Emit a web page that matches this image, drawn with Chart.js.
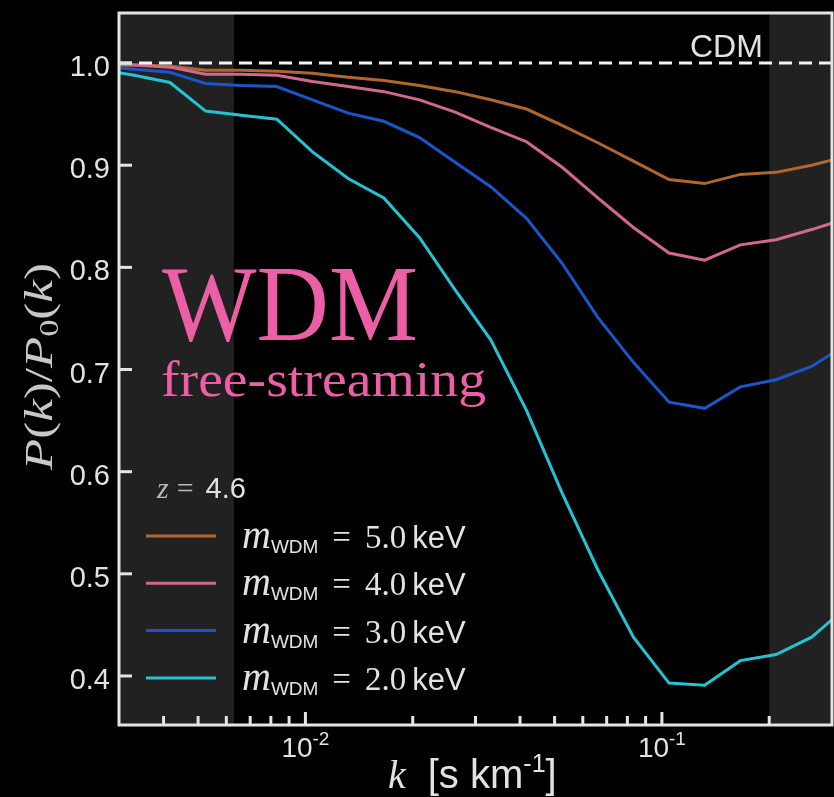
<!DOCTYPE html>
<html>
<head>
<meta charset="utf-8">
<script src="https://cdn.jsdelivr.net/npm/chart.js@4.4.0/dist/chart.umd.min.js"></script>
<style>
html, body { margin: 0; padding: 0; background: #000; }
</style>
</head>
<body>
<canvas id="chart" width="834" height="797"></canvas>
<script>
// k bins [s/km] and P(k)/P0(k) for each WDM mass
var kValues = [0.00263, 0.00331, 0.00417, 0.00525, 0.00661, 0.00832, 0.01047, 0.01318, 0.0166, 0.0209, 0.0263,
               0.0331, 0.0417, 0.0525, 0.0661, 0.0832, 0.1047, 0.1318, 0.166, 0.209, 0.263, 0.331];
var ratio5keV = [0.999, 0.998, 0.997, 0.993, 0.993, 0.992, 0.990, 0.986, 0.983, 0.978, 0.972,
                 0.964, 0.955, 0.939, 0.922, 0.904, 0.886, 0.882, 0.891, 0.893, 0.900, 0.909];
var ratio4keV = [0.999, 0.998, 0.996, 0.989, 0.989, 0.988, 0.982, 0.977, 0.972, 0.964, 0.952,
                 0.937, 0.923, 0.898, 0.868, 0.839, 0.814, 0.807, 0.822, 0.827, 0.837, 0.848];
var ratio3keV = [0.997, 0.994, 0.991, 0.980, 0.978, 0.977, 0.964, 0.951, 0.943, 0.927, 0.903,
                 0.879, 0.848, 0.804, 0.751, 0.707, 0.668, 0.662, 0.683, 0.690, 0.703, 0.725];
var ratio2keV = [0.994, 0.988, 0.981, 0.953, 0.949, 0.945, 0.913, 0.887, 0.868, 0.829, 0.778,
                 0.729, 0.660, 0.579, 0.504, 0.438, 0.393, 0.391, 0.415, 0.421, 0.438, 0.468];
var massLabels = ['5.0', '4.0', '3.0', '2.0'];
var lineColors = ['#b0662f', '#d06890', '#1a56c8', '#23c3d3'];

var yTicks = [0.4, 0.5, 0.6, 0.7, 0.8, 0.9, 1.0];
var xMajorTicks = [0.01, 0.1];
var xMajorExp = ['-2', '-1'];
var xMinorTicks = [0.004, 0.005, 0.006, 0.007, 0.008, 0.009, 0.02, 0.03, 0.04, 0.05, 0.06, 0.07, 0.08, 0.09, 0.2];
var kRange = [0.003, 0.3];
var yRange = [0.352, 1.049];
var shadeLeft = [0.003, 0.0063];
var shadeRight = [0.2, 0.3];
var cdmLevel = 1.0;
var redshift = '4.6';

var sans = '"Liberation Sans", Arial, sans-serif';
var serif = '"Liberation Serif", "Times New Roman", serif';
var textColor = '#e2e2e2';
var pink = '#ec5fa6';

function toPoints(ys) {
    return kValues.map(function(k, i) { return { x: k, y: ys[i] }; });
}

var seriesValues = [ratio5keV, ratio4keV, ratio3keV, ratio2keV];
var datasets = [{
    label: 'CDM',
    data: [{ x: kRange[0], y: cdmLevel }, { x: kRange[1], y: cdmLevel }],
    borderColor: '#f2f2f2',
    borderWidth: 3,
    borderDash: [13, 7],
    pointRadius: 0,
    order: 0
}];
seriesValues.forEach(function(v, i) {
    datasets.push({
        label: massLabels[i],
        data: toPoints(v),
        borderColor: lineColors[i],
        borderWidth: 3,
        pointRadius: 0,
        tension: 0,
        order: 4 - i
    });
});

function runsWidth(c, runs) {
    var w = 0;
    runs.forEach(function(r) { c.font = r.font; w += c.measureText(r.text).width + (r.gap || 0); });
    return w;
}
function drawRuns(c, runs, x, y) {
    runs.forEach(function(r) {
        c.font = r.font;
        if (r.color) c.fillStyle = r.color;
        c.fillText(r.text, x, y + (r.dy || 0));
        x += c.measureText(r.text).width + (r.gap || 0);
    });
    return x;
}
function drawStretched(c, runs, x, y, width) {
    var w = runsWidth(c, runs);
    c.save();
    c.translate(x, y);
    c.scale(width / w, 1);
    drawRuns(c, runs, 0, 0);
    c.restore();
}

var decorPlugin = {
    id: 'decor',
    beforeDraw: function(chart) {
        var c = chart.ctx;
        c.save();
        c.fillStyle = '#000';
        c.fillRect(0, 0, chart.width, chart.height);
        c.restore();
    },
    beforeDatasetsDraw: function(chart) {
        var c = chart.ctx, a = chart.chartArea, xs = chart.scales.x;
        c.save();
        c.fillStyle = '#212121';
        [shadeLeft, shadeRight].forEach(function(r) {
            var x0 = xs.getPixelForValue(r[0]), x1 = xs.getPixelForValue(r[1]);
            c.fillRect(x0, a.top, x1 - x0, a.bottom - a.top);
        });
        c.restore();
    },
    afterDatasetsDraw: function(chart) {
        var c = chart.ctx, a = chart.chartArea, xs = chart.scales.x, ys = chart.scales.y;
        c.save();
        c.textBaseline = 'alphabetic';

        // frame
        c.strokeStyle = '#e4e4e4';
        c.lineWidth = 3;
        c.strokeRect(a.left, a.top, a.right - a.left, a.bottom - a.top);

        // y ticks + labels
        c.fillStyle = textColor;
        c.textAlign = 'right';
        c.font = '29px ' + sans;
        yTicks.forEach(function(v) {
            var py = ys.getPixelForValue(v);
            c.beginPath(); c.moveTo(a.left, py); c.lineTo(a.left + 13, py); c.stroke();
            c.fillText(v.toFixed(1), 110, py + 13);
        });

        // x ticks (inside)
        xMinorTicks.forEach(function(v) {
            var px = xs.getPixelForValue(v);
            c.beginPath(); c.moveTo(px, a.bottom); c.lineTo(px, a.bottom - 9); c.stroke();
        });
        c.textAlign = 'left';
        xMajorTicks.forEach(function(v, i) {
            var px = xs.getPixelForValue(v);
            c.beginPath(); c.moveTo(px, a.bottom); c.lineTo(px, a.bottom - 13); c.stroke();
            var runs = [{ text: '10', font: '28px ' + sans }, { text: xMajorExp[i], font: '19px ' + sans, dy: -12 }];
            drawRuns(c, runs, px - runsWidth(c, runs) / 2, 757);
        });

        // axis titles
        drawRuns(c, [
            { text: 'k', font: 'italic 40px ' + serif, gap: 22 },
            { text: '[s km', font: '40px ' + sans },
            { text: '-1', font: '25px ' + sans, dy: -16 },
            { text: ']', font: '40px ' + sans }
        ], 388, 788);

        c.save();
        c.translate(52, 470);
        c.rotate(-Math.PI / 2);
        c.fillStyle = '#c8c8c8';
        drawStretched(c, [
            { text: 'P', font: 'italic 40px ' + serif },
            { text: '(', font: '40px ' + serif },
            { text: 'k', font: 'italic 40px ' + serif },
            { text: ')/', font: '40px ' + serif },
            { text: 'P', font: 'italic 40px ' + serif },
            { text: '0', font: '27px ' + serif, dy: 6 },
            { text: '(', font: '40px ' + serif },
            { text: 'k', font: 'italic 40px ' + serif },
            { text: ')', font: '40px ' + serif }
        ], 0, 0, 207);
        c.restore();

        // CDM label
        c.fillStyle = textColor;
        c.font = '32px ' + sans;
        c.fillText('CDM', 690, 57);

        // WDM annotation
        c.fillStyle = pink;
        drawStretched(c, [{ text: 'WDM', font: '109px ' + serif }], 162, 340, 256);
        drawStretched(c, [{ text: 'free-streaming', font: '50px ' + serif }], 161, 396, 325);

        // legend
        drawRuns(c, [
            { text: 'z', font: 'italic 30px ' + serif, color: '#b8b8b8', gap: 8 },
            { text: '=', font: '30px ' + serif, gap: 12 },
            { text: redshift, font: '29px ' + sans, color: textColor }
        ], 157, 498);

        var rows = chart.data.datasets.filter(function(d) { return d.label !== 'CDM'; });
        rows.forEach(function(d, i) {
            var ly = 536 + 47.3 * i;
            c.strokeStyle = d.borderColor;
            c.lineWidth = 3;
            c.beginPath(); c.moveTo(146, ly); c.lineTo(216, ly); c.stroke();
            drawRuns(c, [
                { text: 'm', font: 'italic 40px ' + serif, color: textColor },
                { text: 'WDM', font: '19px ' + sans, dy: 5, gap: 14 },
                { text: '=', font: '33px ' + serif, gap: 14 },
                { text: d.label, font: '33px ' + serif, gap: 6 },
                { text: 'keV', font: '31px ' + sans }
            ], 242, ly + 12);
        });

        c.restore();
    }
};

var ctx = document.getElementById('chart').getContext('2d');
var chart = new Chart(ctx, {
    type: 'line',
    data: { datasets: datasets },
    options: {
        responsive: false,
        animation: false,
        layout: { padding: { left: 119, top: 13, right: 2, bottom: 72 } },
        scales: {
            x: { type: 'logarithmic', min: kRange[0], max: kRange[1], display: false },
            y: { type: 'linear', min: yRange[0], max: yRange[1], display: false }
        },
        plugins: {
            legend: { display: false },
            tooltip: { enabled: false }
        }
    },
    plugins: [decorPlugin]
});
</script>
</body>
</html>
